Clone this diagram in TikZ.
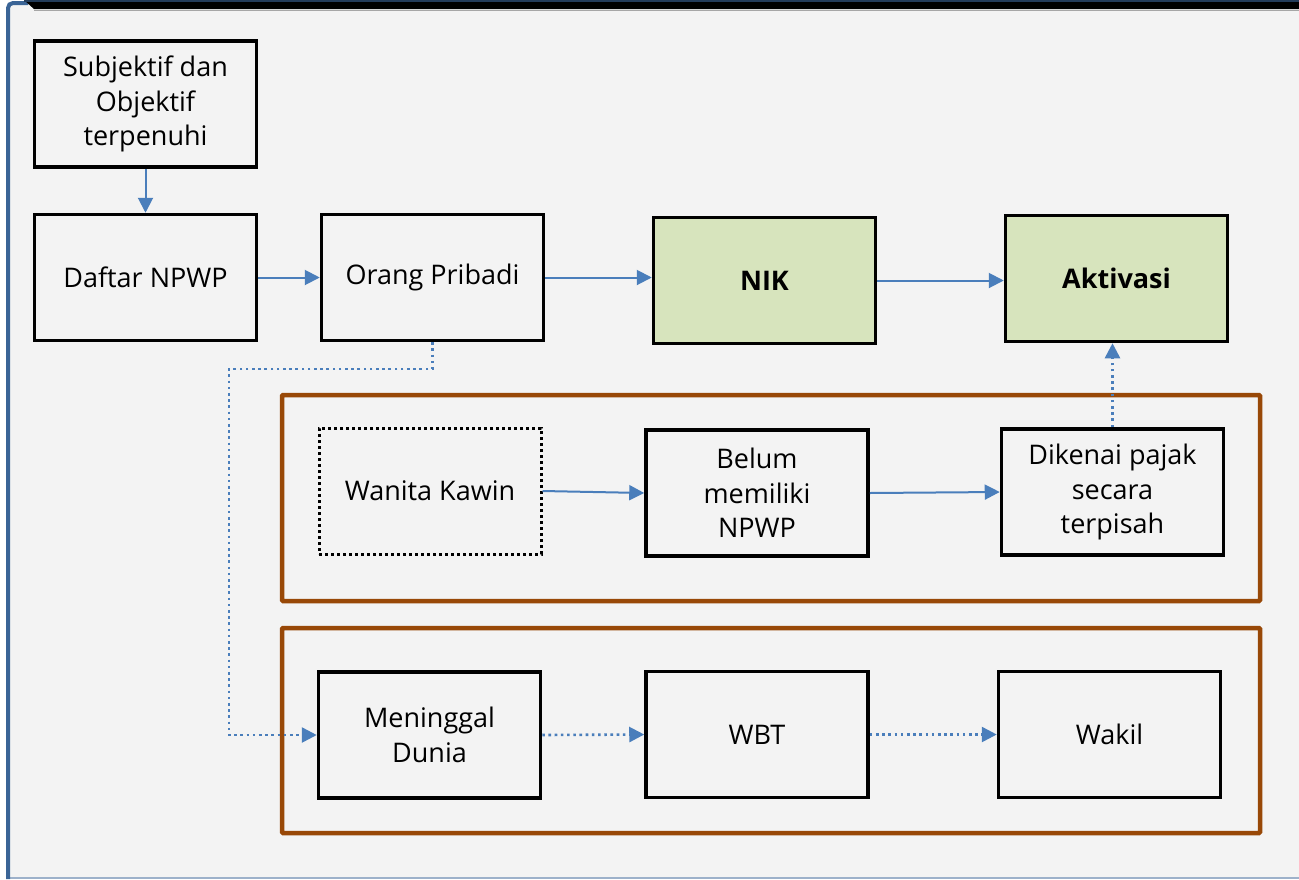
\documentclass[tikz,border=0pt]{standalone}
\usepackage{fontspec}
\setmainfont{Open Sans}
\usetikzlibrary{arrows.meta}
\definecolor{panel}{HTML}{F3F3F3}
\definecolor{frameblue}{HTML}{3A6496}
\definecolor{flow}{HTML}{4A7EBB}
\definecolor{groupline}{HTML}{984807}
\definecolor{keyfill}{HTML}{D7E4BD}
\tikzset{
  box/.style={draw=black, line width=3.5pt, fill=panel, minimum width=222pt, minimum height=126pt,
    align=center, inner sep=2pt, font=\fontsize{27}{34.5}\selectfont},
  keybox/.style={box, fill=keyfill, font=\fontsize{27}{34.5}\selectfont\bfseries},
  openbox/.style={box, line width=3pt, dash pattern=on 3pt off 3pt},
  group/.style={draw=groupline, line width=4.5pt, rounded corners=1pt},
  link/.style={draw=flow, line width=2pt, -{Triangle[length=15pt,width=15pt]}},
  dotlink/.style={link, line width=2.6pt, dash pattern=on 2.6pt off 3.6pt},
}
\begin{document}
\begin{tikzpicture}[x=1pt,y=-1pt]
\useasboundingbox (0,0) rectangle (1299,879);
% panel and its frame
\fill[panel] (7,4) rectangle (1299,879);
\draw[frameblue!50, line width=1.5pt] (7,878) -- (1299,878);
\draw[frameblue, line width=4pt, rounded corners=5pt] (8,879) -- (8,3) -- (28,3);
\fill[black] (24,0) -- (1299,0) -- (1299,9) -- (34,9) -- cycle;
\fill[frameblue!60!black] (24,0) rectangle (1299,1.5);
\draw[gray!70, line width=1pt] (34,10) -- (1299,10);

% group frames
\draw[group] (282,395) rectangle (1260,601);
\draw[group] (282,628) rectangle (1260,833);

% boxes
\node[box] (subj) at (145.5,104) {Subjektif dan\\Objektif\\terpenuhi};
\node[box] (daftar) at (145.5,277.5) {Daftar NPWP};
\node[box] (orang) at (432.5,277.5) {Orang Pribadi};
\node[keybox] (nik) at (764.5,280.5) {NIK};
\node[keybox] (aktiv) at (1116.5,278.5) {Aktivasi};
\node[openbox] (wanita) at (430,491) {Wanita Kawin};
\node[box] (belum) at (757,493) {Belum\\memiliki\\NPWP};
\node[box] (dikenai) at (1112.5,492) {Dikenai pajak\\secara\\terpisah};
\node[box] (mening) at (429.5,735) {Meninggal\\Dunia};
\node[box] (wbt) at (757,734.5) {WBT};
\node[box] (wakil) at (1109.5,734.5) {Wakil};

% connectors
\draw[link] (subj.south) -- (daftar.north);
\draw[link] (daftar.east) -- (orang.west);
\draw[link] (orang.east) -- (nik.west |- orang.east);
\draw[link] (nik.east) -- (aktiv.west |- nik.east);
\draw[link] (wanita.east) -- (belum.west);
\draw[link] (belum.east) -- (dikenai.west);
\draw[dotlink] (dikenai.north) -- (aktiv.south -| dikenai.north);
\coordinate (bend1) at (432.5,369);
\coordinate (bend2) at (229,369);
\coordinate (bend3) at (229,735);
\draw[dotlink] (orang.south) -- (bend1) -- (bend2) -- (bend3) -- (mening.west);
\draw[dotlink] (mening.east) -- (wbt.west);
\draw[dotlink] (wbt.east) -- (wakil.west);
\end{tikzpicture}
\end{document}
